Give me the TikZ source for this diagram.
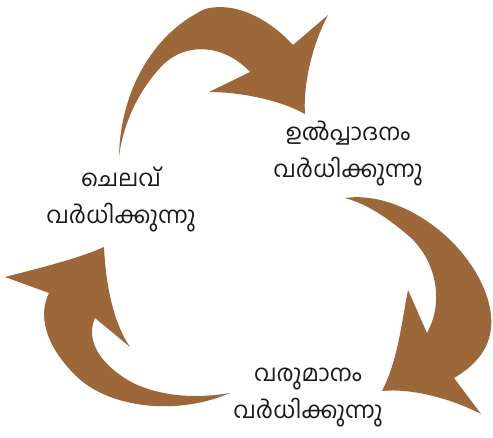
\documentclass[tikz,border=0pt]{standalone}
\usepackage{fontspec}
\newfontfamily\malfont[Script=Malayalam]{Hind Kochi}
\definecolor{cyclebrown}{RGB}{156,104,58}
\tikzstyle{cyclearrow}=[fill=cyclebrown, draw=none]
\tikzstyle{phase}=[align=center, font=\malfont\fontsize{23}{37}\selectfont, text=black!90]

\begin{document}
\begin{tikzpicture}[x=1pt, y=-1pt]
				\useasboundingbox (0,0) rectangle (493,438);
				% top arrow
				\fill[cyclearrow] (119,157) .. controls (120,95) and (150,35) .. (205,9) .. controls (240,0) and (275,25) .. (293,45)
					-- (328,15) .. controls (312,45) and (303,85) .. (305,114)
					.. controls (280,100) and (240,92) .. (209,92) -- (250,72)
					.. controls (225,45) and (185,40) .. (160,68) .. controls (135,95) and (122,130) .. (119,157) -- cycle;
				% right arrow
				\fill[cyclearrow] (345,198) .. controls (400,190) and (470,240) .. (488,300) .. controls (498,335) and (485,360) .. (454,378)
					-- (481,414) .. controls (450,398) and (410,388) .. (382,391)
					.. controls (398,360) and (402,320) .. (408,290) -- (427,333)
					.. controls (445,300) and (435,260) .. (410,237) .. controls (390,220) and (370,205) .. (345,198) -- cycle;
				% left arrow
				\fill[cyclearrow] (230,393) .. controls (180,415) and (110,410) .. (75,375) .. controls (45,345) and (38,315) .. (49,293)
					-- (5,277) .. controls (40,268) and (80,258) .. (104,247)
					.. controls (106,290) and (115,325) .. (130,347) -- (95,318)
					.. controls (85,340) and (100,365) .. (133,383) .. controls (165,398) and (200,398) .. (230,393) -- cycle;
				\node[phase] (production) at (348,153) {ഉൽപ്പാദനം\\വർധിക്കുന്നു};
				\node[phase] (income) at (308,398) {വരുമാനം\\വർധിക്കുന്നു};
				\node[phase] (spending) at (121,200) {ചെലവ്\\വർധിക്കുന്നു};
			\end{tikzpicture}
\end{document}
